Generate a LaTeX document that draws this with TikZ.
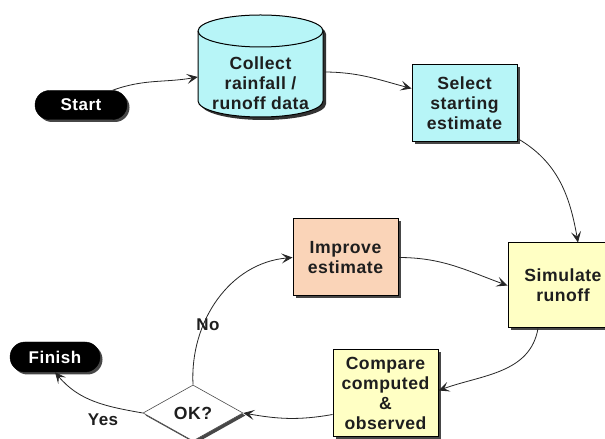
\documentclass[tikz,border=0pt]{standalone}
\usepackage{fontspec}
\setmainfont{Liberation Sans}
\newfontfamily\diagfont[LetterSpace=3]{Liberation Sans}
\usetikzlibrary{shapes.geometric,shapes.misc,arrows.meta,shadows}

\definecolor{cyanfill}{RGB}{183,245,247}
\definecolor{yellowfill}{RGB}{255,255,196}
\definecolor{peachfill}{RGB}{250,212,184}
\definecolor{inkc}{RGB}{30,30,30}

\tikzset{
 txt/.style={font=\diagfont\fontsize{17.6}{20}\selectfont\bfseries, text=inkc, align=center},
 shad/.style={drop shadow={shadow xshift=2.5pt,shadow yshift=-2.5pt,fill=black!80,opacity=0.9}},
 box/.style={txt, draw=black, line width=1pt, rectangle, inner sep=0pt, shad},
 pill/.style={rounded rectangle, fill=black, draw=black, text=white, font=\diagfont\fontsize{17}{20}\selectfont\bfseries, inner sep=0pt, shad},
 conn/.style={draw=black!85, line width=0.8pt, -{Stealth[length=11pt,width=10pt,inset=5pt]}},
 lbl/.style={font=\diagfont\fontsize{17}{20}\selectfont\bfseries, text=inkc}
}

\begin{document}
\begin{tikzpicture}[x=1pt,y=1pt]
\useasboundingbox (0,0) rectangle (605,439);
\fill[white] (0,0) rectangle (605,439);

% cylinder (data store)
\fill[black!80] (201,405) -- (201,335) arc[start angle=180,end angle=360,x radius=62.5,y radius=16]
   -- (326,405) arc[start angle=0,end angle=180,x radius=62.5,y radius=16] -- cycle;
\filldraw[fill=cyanfill, draw=black, line width=1pt] (198,408) -- (198,338) arc[start angle=180,end angle=360,x radius=62.5,y radius=16]
   -- (323,408) arc[start angle=0,end angle=180,x radius=62.5,y radius=16] -- cycle;
\draw[black, line width=1pt] (198,408) arc[start angle=180,end angle=360,x radius=62.5,y radius=16];
\node[txt, minimum width=125pt, inner sep=0pt] (collect) at (260.5,356) {Collect\\rainfall /\\runoff data};

\node[pill, minimum width=92pt, minimum height=29pt] (start) at (81,334) {Start};
\node[box, fill=cyanfill, minimum width=105pt, minimum height=77pt] (select) at (464.5,335.5) {Select\\starting\\estimate};
\node[box, fill=yellowfill, minimum width=110pt, minimum height=85pt] (simulate) at (563,153.5) {Simulate\\runoff};
\node[box, fill=peachfill, minimum width=105pt, minimum height=77pt] (improve) at (345.5,181.5) {Improve\\estimate};
\node[box, fill=yellowfill, minimum width=105pt, minimum height=87pt] (compare) at (385.5,45.5) {Compare\\computed\\\&\\observed};
\node[diamond, txt, draw=black!70, line width=0.6pt, fill=white, aspect=1.8, minimum width=100pt, minimum height=56pt, inner sep=0pt, shad] (ok) at (193,26) {OK?};
\node[pill, minimum width=90pt, minimum height=30pt] (finish) at (55,82) {Finish};

\node[lbl] (yes) at (103,19) {Yes};
\node[lbl] (no) at (208,114) {No};

\draw[conn] (start.25) to[out=20,in=190] ([yshift=6pt]collect.west);
\draw[conn] ([yshift=11pt]collect.east) to[out=0,in=165] ([yshift=15pt]select.west);
\draw[conn] ([yshift=4pt]select.south east) to[out=-30,in=100] ([xshift=15pt]simulate.north);
\draw[conn] (improve.east) to[out=0,in=160] (simulate.west);
\draw[conn] ([xshift=-25pt]simulate.south) to[out=-100,in=20] ([yshift=3pt]compare.east);
\draw[conn] ([yshift=-21pt]compare.west) to[out=190,in=-10] (ok.east);
\draw[conn] (ok.west) to[out=170,in=-50] (finish.south);
\draw[conn] (ok.north) to[out=93,in=185] (improve.west);
\end{tikzpicture}
\end{document}
